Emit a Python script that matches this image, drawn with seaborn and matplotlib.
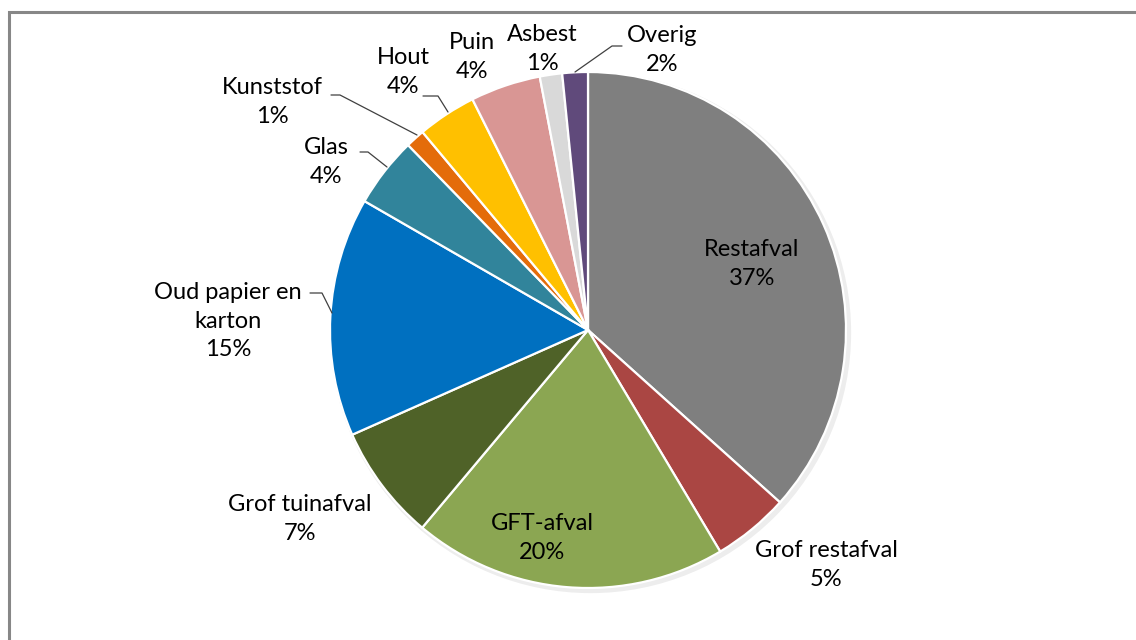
import matplotlib
matplotlib.use("Agg")
import matplotlib.pyplot as plt
import seaborn as sns
import numpy as np
from matplotlib.patches import Rectangle

sns.set_theme(style="white")
plt.rcParams['font.family'] = ['Lato', 'DejaVu Sans']

# ---- data ----
categories = ["Restafval", "Grof restafval", "GFT-afval", "Grof tuinafval",
              "Oud papier en\nkarton", "Glas", "Kunststof", "Hout", "Puin",
              "Asbest", "Overig"]
values = [36.7, 4.8, 19.7, 7.25, 15.0, 4.4, 1.2, 3.7, 4.4, 1.4, 1.6]
colors = ["#7F7F7F", "#AA4643", "#8BA652", "#4F6228", "#0070C0", "#31849B",
          "#E46C0A", "#FFC000", "#D99694", "#D9D9D9", "#604A7B"]

# ---- layout (pixel geometry of the reference) ----
W, H = 1136, 640
CX, CY, R = 588, 330, 258

def px2d(px, py):
    return ((px - CX) / R, (CY - py) / R)

# label block centres (pixels) and optional leader elbow/end points
label_pos = {
    "Restafval": (752, 264),
    "Grof restafval": (826, 565),
    "GFT-afval": (542, 538),
    "Grof tuinafval": (300, 519),
    "Oud papier en\nkarton": (228, 321),
    "Glas": (326, 162),
    "Kunststof": (272, 102),
    "Hout": (403, 72),
    "Puin": (472, 57),
    "Asbest": (542, 49),
    "Overig": (662, 50),
}
leaders = {
    "Oud papier en\nkarton": [(310, 293), (322, 293), (332, 313)],
    "Glas": [(360, 152), (368, 152), (387, 167)],
    "Kunststof": [(331, 95), (340, 95), (417, 135)],
    "Hout": [(423, 96), (438, 96), (448, 112)],
    "Overig": [(622, 46), (612, 46), (575, 72)],
}

fig = plt.figure(figsize=(W / 100, H / 100), dpi=100)
ax = fig.add_axes([0, 0, 1, 1])

# faint shadow
shadow = plt.Circle((0.01, -0.01), 1.01, color="#000000", alpha=0.07, lw=0, zorder=0)
ax.add_patch(shadow)

wedges, _ = ax.pie(values, colors=colors, startangle=90, counterclock=False,
                   radius=1.0, center=(0, 0),
                   wedgeprops=dict(edgecolor="white", linewidth=1.6), frame=True)
ax.axis('off')
ax.set_aspect('equal')
ax.set_xlim(-CX / R, (W - CX) / R)
ax.set_ylim((CY - H) / R, CY / R)

total = sum(values)
for cat, v in zip(categories, values):
    pct = f"{round(v / total * 100)}%"
    x, y = px2d(*label_pos[cat])
    ax.text(x, y, f"{cat}\n{pct}", ha="center", va="center", fontsize=17,
            color="#000000", linespacing=1.45, multialignment="center", zorder=5)
    if cat in leaders:
        pts = np.array([px2d(*p) for p in leaders[cat]])
        ax.plot(pts[:, 0], pts[:, 1], color="#404040", lw=0.9, zorder=4)

# outer chart border (clipped at right/bottom like the reference)
fig.patches.append(Rectangle((9 / W, -0.1), 1.2, (H - 12) / H + 0.1,
                             transform=fig.transFigure, fill=False,
                             edgecolor="#878787", lw=2.2, zorder=10))

fig.savefig("out.png", dpi=100)
